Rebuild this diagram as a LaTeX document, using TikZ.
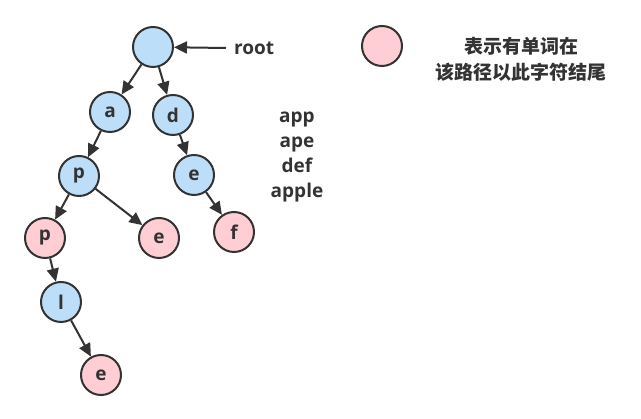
\documentclass[tikz,border=0pt]{standalone}
\usepackage{fontspec}
\setmainfont{Open Sans}
\newfontfamily\cjk{Noto Sans CJK SC}
\usetikzlibrary{arrows.meta}
\definecolor{nblue}{HTML}{BDDEF8}
\definecolor{npink}{HTML}{FFCDD4}
\definecolor{ink}{HTML}{333333}
\begin{document}
\begin{tikzpicture}[x=1pt,y=-1pt,
  tnode/.style={circle,draw=ink,line width=2pt,minimum size=40pt,inner sep=0pt,font=\fontsize{19}{19}\selectfont\bfseries,text=ink},
  bnode/.style={tnode,fill=nblue},
  pnode/.style={tnode,fill=npink},
  edge/.style={draw=ink,line width=2pt,-{Triangle[length=13pt,width=12pt]}},
  lbl/.style={font=\fontsize{19}{19}\selectfont\bfseries,text=ink,align=center}]
\useasboundingbox (0,0) rectangle (641,419);
\node[bnode] (root) at (153,47) {};
\node[bnode] (a) at (110,112) {a};
\node[bnode] (d) at (173,115) {d};
\node[bnode] (p1) at (79,176) {p};
\node[bnode] (e1) at (194,175) {e};
\node[pnode] (p2) at (45,238) {p};
\node[pnode] (e2) at (159,238) {e};
\node[pnode] (f) at (234,232) {f};
\node[bnode] (l) at (61,302) {l};
\node[pnode] (e3) at (101,375) {e};
\node[pnode] (leg) at (382,46) {};
\node[lbl,anchor=west,inner xsep=8pt,inner ysep=1pt] (rootlbl) at (226,48) {root};
\node[lbl,font=\fontsize{19}{26}\selectfont\cjk\bfseries] (legtxt) at (521,59) {表示有单词在\\该路径以此字符结尾};
\node[lbl,font=\fontsize{19}{24.7}\selectfont\bfseries] (words) at (297,157) {app\\ape\\def\\apple};
\draw[edge] (rootlbl.west) -- (root);
\draw[edge] (root) -- (a);
\draw[edge] (root) -- (d);
\draw[edge] (a) -- (p1);
\draw[edge] (d) -- (e1);
\draw[edge] (p1) -- (p2);
\draw[edge] (p1) -- (e2);
\draw[edge] (e1) -- (f);
\draw[edge] (p2) -- (l);
\draw[edge] (l) -- (e3);
\end{tikzpicture}
\end{document}
